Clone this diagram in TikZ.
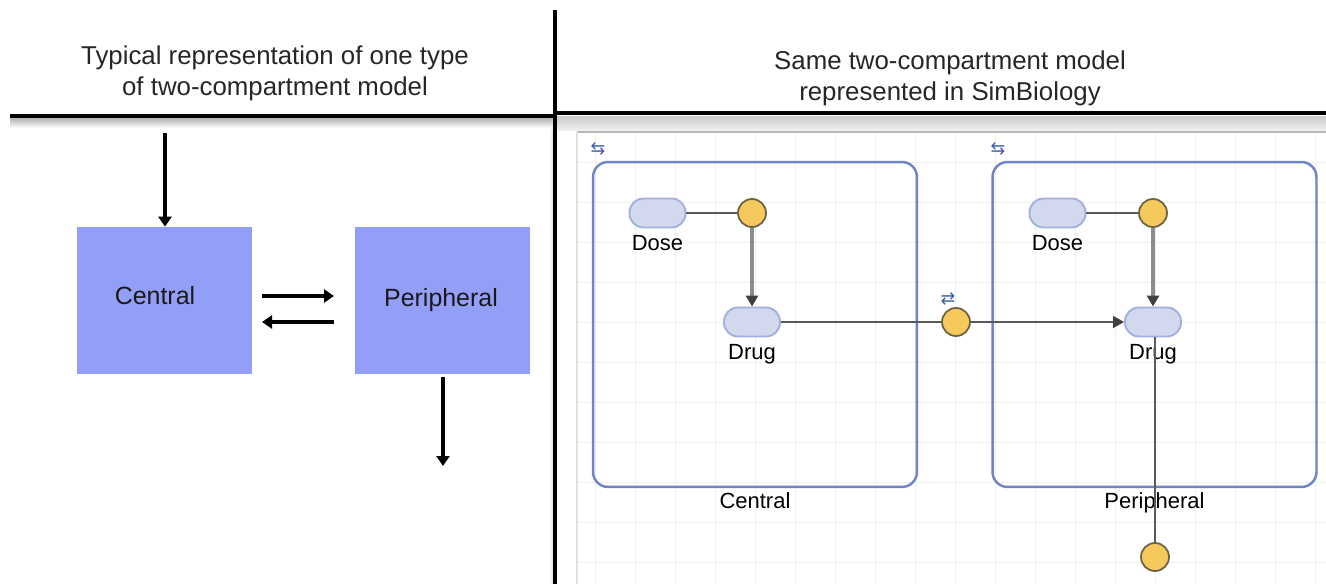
\documentclass[tikz,border=0pt]{standalone}
\usepackage{fontspec}
\setmainfont{Liberation Sans}
\newfontfamily\symfont{DejaVu Sans}
\usetikzlibrary{arrows.meta}
\definecolor{boxblue}{HTML}{939FF7}
\definecolor{compblue}{HTML}{7085C8}
\definecolor{pillfill}{HTML}{D2D8EE}
\definecolor{pillline}{HTML}{A3B0DD}
\definecolor{rxnfill}{HTML}{F5C95C}
\definecolor{rxnline}{HTML}{6B6245}
\definecolor{gridc}{HTML}{EFEFEF}
\definecolor{iconblue}{HTML}{3F5FA8}
\begin{document}
\begin{tikzpicture}[x=0.02cm,y=-0.02cm,
  titlefont/.style={font=\fontsize{14.7}{17.8}\selectfont, align=center, text=black!85},
  sep/.style={line width=1.8pt, black},
  lbox/.style={rectangle, fill=boxblue, minimum width=3.5cm, minimum height=2.94cm, inner sep=0pt},
  ltext/.style={font=\fontsize{14.2}{16}\selectfont, text=black!90},
  larr/.style={line width=2.2pt, -{Triangle[width=0.26cm,length=0.2cm]}},
  comp/.style={rectangle, draw=compblue, line width=1.4pt, rounded corners=0.3cm, minimum width=6.48cm, minimum height=6.5cm, inner sep=0pt},
  pill/.style={rectangle, draw=pillline, fill=pillfill, line width=1.1pt, rounded corners=0.28cm, minimum width=1.12cm, minimum height=0.58cm, inner sep=0pt},
  rxn/.style={circle, draw=rxnline, fill=rxnfill, line width=1pt, minimum size=0.56cm, inner sep=0pt},
  sbfont/.style={font=\fontsize{12.5}{14}\selectfont},
  thin/.style={draw=black!65, line width=0.8pt},
  grarr/.style={draw=black!45, line width=1.9pt, -{Triangle[width=0.24cm,length=0.22cm,fill=black!75,color=black!75]}},
  dkarr/.style={draw=black!65, line width=0.8pt, -{Triangle[width=0.24cm,length=0.22cm,fill=black!75,color=black!75]}},
  icon/.style={font=\symfont\fontsize{10}{10}\selectfont, text=iconblue, inner sep=0pt}
]
\useasboundingbox (0,0) rectangle (1326,584);

% ---------- SimBiology canvas ----------
\fill[white] (577,132) rectangle (1326,584);
\foreach \x in {595,635,...,1315} \draw[gridc, line width=0.5pt] (\x,132) -- (\x,584);
\foreach \y in {162,202,...,562} \draw[gridc, line width=0.5pt] (577,\y) -- (1326,\y);
\shade[top color=black!20, bottom color=black!5] (557,117) rectangle (1326,131);
\draw[black!28, line width=0.6pt] (577,132) -- (1326,132);
\draw[black!12, line width=0.6pt] (577,132) -- (577,584);

% ---------- separators ----------
\shade[top color=black!30, bottom color=white] (10,118) rectangle (553,128);
\shade[left color=white, right color=black!12] (549,130) rectangle (553,584);
\draw[sep] (10,116) -- (555,116);
\draw[sep] (555,113) -- (1326,113);
\draw[sep] (555,10) -- (555,584);

% ---------- titles ----------
\node[titlefont] (tleft) at (275,73) {Typical representation of one type\\of two-compartment model};
\node[titlefont] (tright) at (950,78) {Same two-compartment model\\represented in SimBiology};

% ---------- left diagram ----------
\node[lbox] (cbox) at (164.5,300.5) {};
\node[lbox] (pbox) at (442.5,300.5) {};
\node[ltext] (ctext) at (155,296) {Central};
\node[ltext] (ptext) at (441,300) {Peripheral};
\coordinate (inC) at (165,133);
\draw[larr] (inC) -- (inC |- cbox.north);
\coordinate (exA) at (262,296);
\coordinate (exB) at (334,296);
\coordinate (exC) at (334,322);
\coordinate (exD) at (262,322);
\draw[larr] (exA) -- (exB);
\draw[larr] (exC) -- (exD);
\coordinate (outP) at (443,377);
\coordinate (outQ) at (443,466);
\draw[larr] (outP) -- (outQ);

% ---------- SimBiology diagram ----------
\node[comp, label={[sbfont, label distance=-1.3pt]below:Central}] (compC) at (755,324.5) {};
\node[comp, label={[sbfont, label distance=-1.3pt]below:Peripheral}] (compP) at (1154.5,324.5) {};
\node[icon] (iconC) at (598,149) {⇆};
\node[icon] (iconP) at (998,149) {⇆};
\node[icon] (iconM) at (948,299) {⇄};

\node[pill, label={[sbfont, label distance=0.5pt]below:Dose}] (doseC) at (657.5,213) {};
\node[rxn] (rC) at (752,213) {};
\node[pill, label={[sbfont, label distance=0.5pt]below:Drug}] (drugC) at (752,322) {};
\node[rxn] (rM) at (956,322) {};
\node[pill, label={[sbfont, label distance=0.5pt]below:Dose}] (doseP) at (1057.5,213) {};
\node[rxn] (rP) at (1153,213) {};
\node[pill, label={[sbfont, label distance=0.5pt]below:Drug}] (drugP) at (1153,322) {};
\node[rxn] (rB) at (1155,557) {};

\draw[thin] (doseC.east) -- (rC.west);
\draw[grarr] (rC.south) -- (drugC.north);
\draw[thin] (drugC.east) -- (rM.west);
\draw[dkarr] (rM.east) -- (drugP.west);
\draw[thin] (doseP.east) -- (rP.west);
\draw[grarr] (rP.south) -- (drugP.north);
\draw[thin] (drugP.south -| rB.north) -- (rB.north);
\end{tikzpicture}
\end{document}
